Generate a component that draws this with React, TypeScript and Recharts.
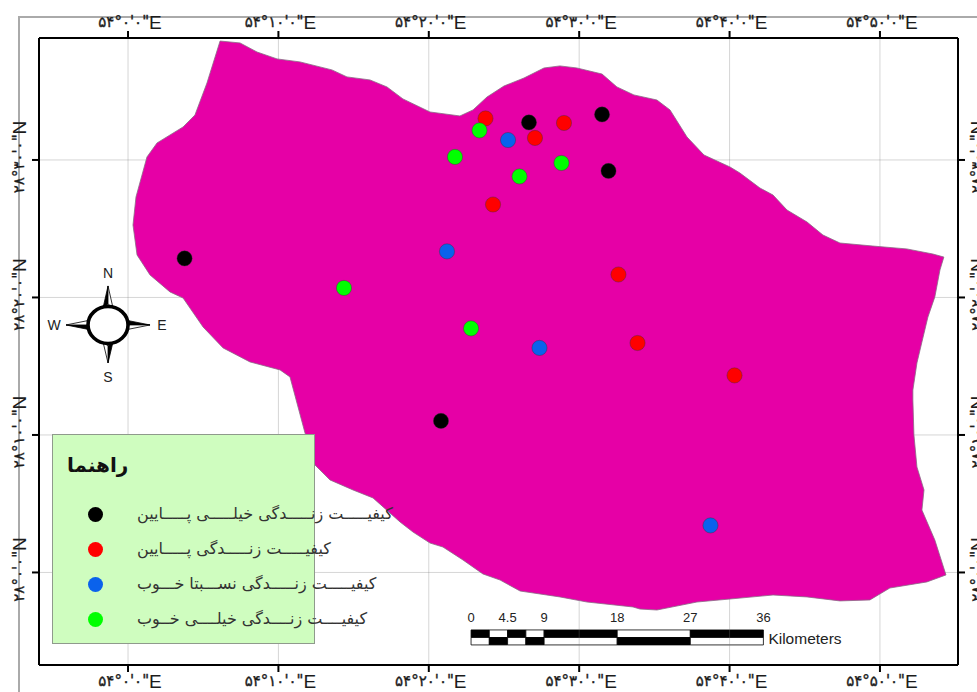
import React from 'react';
import { ScatterChart, Scatter, XAxis, YAxis, Legend, ReferenceLine, ReferenceDot, ReferenceArea } from 'recharts';

// Longitudes are minutes east of 54°0', latitudes are minutes north of 28°0'.
const lonTicks = [0, 10, 20, 30, 40, 50];
const latTicks = [30, 20, 10, 0];

const boundaryLon = [6.12,7.45,8.58,9.91,11.44,13.56,14.56,16.09,17.22,18.28,20.08,22.07,22.94,23.87,25.0,26.33,27.66,28.72,29.85,31.52,32.51,33.64,35.17,36.04,37.17,38.3,40.03,40.69,42.02,42.89,43.82,45.15,46.21,47.34,49.53,51.79,53.52,54.25,53.99,53.65,53.19,52.79,52.46,52.19,52.19,52.26,52.46,52.93,52.79,53.65,54.39,53.12,50.66,49.33,47.34,45.15,42.89,40.03,37.83,35.17,34.04,33.58,30.52,28.72,26.07,24.74,23.6,22.27,20.94,20.08,18.95,18.09,16.29,14.96,13.43,12.43,11.77,10.77,10.11,8.11,6.32,4.99,3.66,2.79,1.46,0.6,0.33,0.53,1.26,1.93,3.66,4.45,5.25,6.12];
const boundaryLat = [38.65,38.51,37.85,37.35,37.13,36.55,36.04,35.82,35.31,34.44,33.49,33.2,33.64,34.58,35.38,35.96,36.69,36.84,36.69,36.25,35.31,34.73,34.36,33.64,31.67,30.36,29.49,29.05,27.96,27.45,26.36,25.49,24.54,23.96,23.74,23.53,23.16,22.94,22.0,20.04,18.58,16.76,15.24,13.27,12.54,10.0,7.67,6.0,4.54,2.36,-0.18,-0.69,-1.13,-2.0,-2.07,-1.78,-1.64,-1.93,-2.15,-2.73,-2.66,-2.51,-2.15,-1.78,-1.35,-0.55,-0.11,0.91,1.85,2.14,2.94,3.67,5.42,6.0,6.73,7.82,10.14,14.22,14.73,15.31,16.33,17.85,19.96,20.4,21.64,23.09,25.27,27.31,30.22,31.24,32.4,33.27,35.6,38.65];

const veryLowLon = [26.66, 31.52, 31.95, 3.76, 20.81];
const veryLowLat = [32.73, 33.31, 29.2, 22.84, 11.02];
const lowLon = [23.77, 27.06, 28.99, 24.27, 32.61, 33.88, 40.33];
const lowLat = [33.02, 31.6, 32.69, 26.76, 21.67, 16.69, 14.33];
const fairLon = [25.27, 21.21, 27.36, 38.73];
const fairLat = [31.45, 23.35, 16.33, 3.42];
const veryGoodLon = [23.37, 21.74, 28.82, 26.03, 14.36, 22.81];
const veryGoodLat = [32.15, 30.22, 29.78, 28.8, 20.69, 17.75];

const legendTitle = 'راهنما';
const nameVeryLow = 'کیفیـــــت زنـــــدگی خیلـــــی پـــــایین';
const nameLow = 'کیفیـــــت زنـــــدگی پـــــایین';
const nameFair = 'کیفیـــــت زنـــــدگی نســـبتا خـــوب';
const nameVeryGood = 'کیفیــــت زنــــدگی خیلــــی خــوب';

const scaleLabels = [0, 4.5, 9, 18, 27, 36];
const scaleEdges = [0, 2.25, 4.5, 6.75, 9, 18, 27, 36];

const zip = (xs: number[], ys: number[]) => xs.map((lon, i) => ({ lon, lat: ys[i] }));
const boundary = zip(boundaryLon, boundaryLat);

const X_DOMAIN = [-5.92, 55.19];
const Y_DOMAIN = [-6.73, 38.87];
const SCALE_START = 22.81;
const MIN_PER_KM = 0.54;
const kmToLon = (km: number) => SCALE_START + km * MIN_PER_KM;
const SCALE_TOP = -4.18, SCALE_MID = -4.73, SCALE_BOTTOM = -5.27;

const fa = (n: number) => String(n).replace(/\d/g, (d) => '۰۱۲۳۴۵۶۷۸۹'[Number(d)]);
const lonLabel = (m: number) => `۵۴°${fa(m)}'۰"`;
const latLabel = (m: number) => `۲۸°${fa(m)}'۰"`;

const TickText = ({ x, y, rotate, body, letter }: any) => (
  <text x={x} y={y} textAnchor="middle" dominantBaseline="central" direction="ltr" fill="#1c1c1c"
    transform={rotate ? `rotate(-90 ${x} ${y})` : undefined}
    style={{ unicodeBidi: 'bidi-override' as any }}>
    <tspan fontFamily="DejaVu Sans" fontSize={15} stroke="#1c1c1c" strokeWidth={0.35}>{body}</tspan>
    <tspan fontFamily="Liberation Sans" fontSize={19}>{letter}</tspan>
  </text>
);
const TopTick = ({ x, payload }: any) => <TickText x={x + 2} y={22} body={lonLabel(payload.value)} letter="E" />;
const BottomTick = ({ x, payload }: any) => <TickText x={x + 2} y={681} body={lonLabel(payload.value)} letter="E" />;
const LeftTick = ({ y, payload }: any) => <TickText x={19} y={y - 3} rotate body={latLabel(payload.value)} letter="N" />;
const RightTick = ({ y, payload }: any) => <TickText x={977} y={y - 3} rotate body={latLabel(payload.value)} letter="N" />;

const marker = (color: string) => (p: any) => (
  <circle cx={p.cx} cy={p.cy} r={7.6} fill={color} stroke="#333" strokeOpacity={0.55} strokeWidth={0.7} />
);

const Compass = ({ cx, cy }: any) => {
  const arm = (ang: number, len: number) => (
    <g transform={`rotate(${ang} ${cx} ${cy})`} key={ang}>
      <polygon points={`${cx},${cy - len} ${cx - 5},${cy - 17} ${cx},${cy - 21}`} fill="#000" stroke="#000" strokeWidth={0.8} />
      <polygon points={`${cx},${cy - len} ${cx + 5},${cy - 17} ${cx},${cy - 21}`} fill="#fff" stroke="#000" strokeWidth={0.8} />
    </g>
  );
  const letters: [string, number, number][] = [['N', 0, -52], ['S', 0, 52], ['W', -54, 0], ['E', 54, 0]];
  return (
    <g>
      {arm(0, 39)}{arm(180, 38)}{arm(-90, 42)}{arm(90, 42)}
      <ellipse cx={cx} cy={cy} rx={20} ry={18.5} fill="#fff" stroke="#000" strokeWidth={3.6} />
      {letters.map(([t, dx, dy]) => (
        <text key={t} x={cx + dx} y={cy + dy} textAnchor="middle" dominantBaseline="central"
          fontFamily="Liberation Sans" fontSize={14} fill="#222">{t}</text>
      ))}
    </g>
  );
};

const LegendPanel = ({ payload }: any) => (
  <div style={{ position: 'relative', width: 263, height: 210, boxSizing: 'border-box', background: '#CFFDBF', border: '1px solid #8f9a8c' }}>
    <div style={{ position: 'absolute', left: 14, top: 18, fontFamily: 'DejaVu Sans', fontWeight: 700, fontSize: 20, direction: 'rtl', color: '#111', whiteSpace: 'nowrap' }}>{legendTitle}</div>
    {(payload || []).filter((e: any) => e.value).map((e: any, i: number) => (
      <div key={e.value}>
        <div style={{ position: 'absolute', left: 35, top: 72 + i * 35, width: 15, height: 15, borderRadius: '50%', background: e.color }} />
        <div style={{ position: 'absolute', left: 84, top: 68 + i * 35, fontFamily: 'DejaVu Sans', fontSize: 16, lineHeight: '22px', color: '#333', direction: 'rtl', whiteSpace: 'nowrap' }}>{e.value}</div>
      </div>
    ))}
  </div>
);

const gridLine = { stroke: '#777', strokeOpacity: 0.3, strokeWidth: 1 };
const axes = { xAxisId: 'b', yAxisId: 'l' };
const axisStroke = { stroke: '#000', strokeWidth: 2 };

export default function App() {
  const cells = scaleEdges.slice(0, -1).map((km, i) => ({ km, next: scaleEdges[i + 1], i }));
  return (
    <div style={{ position: 'absolute', left: 0, top: 0, width: 977, height: 692, overflow: 'hidden', background: '#fff' }}>
      <div style={{ position: 'absolute', left: 18, top: 16, right: -5, bottom: -5, borderLeft: '2px solid #aaa', borderTop: '2px solid #aaa' }} />
      <ScatterChart width={977} height={692} margin={{ top: 0, right: 0, bottom: 0, left: 0 }}>
        <XAxis xAxisId="b" type="number" dataKey="lon" orientation="bottom" height={27} domain={X_DOMAIN} ticks={lonTicks} tick={BottomTick} interval={0} tickSize={7} axisLine={axisStroke} tickLine={axisStroke} />
        <XAxis xAxisId="t" type="number" dataKey="lon" orientation="top" height={38} domain={X_DOMAIN} ticks={lonTicks} tick={TopTick} interval={0} tickSize={7} axisLine={axisStroke} tickLine={axisStroke} />
        <YAxis yAxisId="l" type="number" dataKey="lat" orientation="left" width={39} domain={Y_DOMAIN} ticks={latTicks} tick={LeftTick} interval={0} tickSize={7} axisLine={axisStroke} tickLine={axisStroke} />
        <YAxis yAxisId="r" type="number" dataKey="lat" orientation="right" width={19} domain={Y_DOMAIN} ticks={latTicks} tick={RightTick} interval={0} tickSize={7} axisLine={axisStroke} tickLine={axisStroke} />

        <Scatter xAxisId="t" yAxisId="r" data={boundary} legendType="none" isAnimationActive={false} shape={() => <g />} />
        <Scatter {...axes} data={boundary} legendType="none" isAnimationActive={false} shape={() => <g />}
          line={{ fill: '#E600A6', stroke: '#8a6a85', strokeWidth: 0.8 }} lineType="joint" />

        {lonTicks.map((v) => <ReferenceLine key={'x' + v} {...axes} x={v} {...gridLine} />)}
        {latTicks.map((v) => <ReferenceLine key={'y' + v} {...axes} y={v} {...gridLine} />)}

        <Scatter {...axes} name={nameVeryLow} data={zip(veryLowLon, veryLowLat)} fill="#000000" isAnimationActive={false} shape={marker('#000000')} />
        <Scatter {...axes} name={nameLow} data={zip(lowLon, lowLat)} fill="#FF0000" isAnimationActive={false} shape={marker('#FF0000')} />
        <Scatter {...axes} name={nameFair} data={zip(fairLon, fairLat)} fill="#0A62EC" isAnimationActive={false} shape={marker('#0A62EC')} />
        <Scatter {...axes} name={nameVeryGood} data={zip(veryGoodLon, veryGoodLat)} fill="#00FF00" isAnimationActive={false} shape={marker('#00FF00')} />

        <ReferenceDot {...axes} x={-1.33} y={18} shape={Compass} />

        {cells.map(({ km, next, i }) => (
          <ReferenceArea key={'t' + km} {...axes} x1={kmToLon(km)} x2={kmToLon(next)} y1={SCALE_MID} y2={SCALE_TOP}
            fill={i % 2 === 0 ? '#000' : '#fff'} fillOpacity={1} stroke="#000" strokeWidth={0.8} />
        ))}
        {cells.map(({ km, next, i }) => (
          <ReferenceArea key={'m' + km} {...axes} x1={kmToLon(km)} x2={kmToLon(next)} y1={SCALE_BOTTOM} y2={SCALE_MID}
            fill={i % 2 === 0 ? '#fff' : '#000'} fillOpacity={1} stroke="#000" strokeWidth={0.8} />
        ))}
        {scaleLabels.map((km) => (
          <ReferenceDot key={'l' + km} {...axes} x={kmToLon(km)} y={SCALE_TOP} shape={(p: any) => (
            <text x={p.cx} y={p.cy - 8} textAnchor="middle" fontFamily="Liberation Sans" fontSize={13} fill="#222">{km}</text>
          )} />
        ))}
        <ReferenceDot {...axes} x={kmToLon(36)} y={SCALE_BOTTOM} shape={(p: any) => (
          <text x={p.cx + 5} y={p.cy - 0.5} fontFamily="Liberation Sans" fontSize={15.5} fill="#222">Kilometers</text>
        )} />

        <Legend layout="vertical" align="center" verticalAlign="middle" width={263} height={210} itemSorter={null as any}
          wrapperStyle={{ left: 52, top: 433.5, margin: 0 }} content={LegendPanel as any} />
      </ScatterChart>
    </div>
  );
}
